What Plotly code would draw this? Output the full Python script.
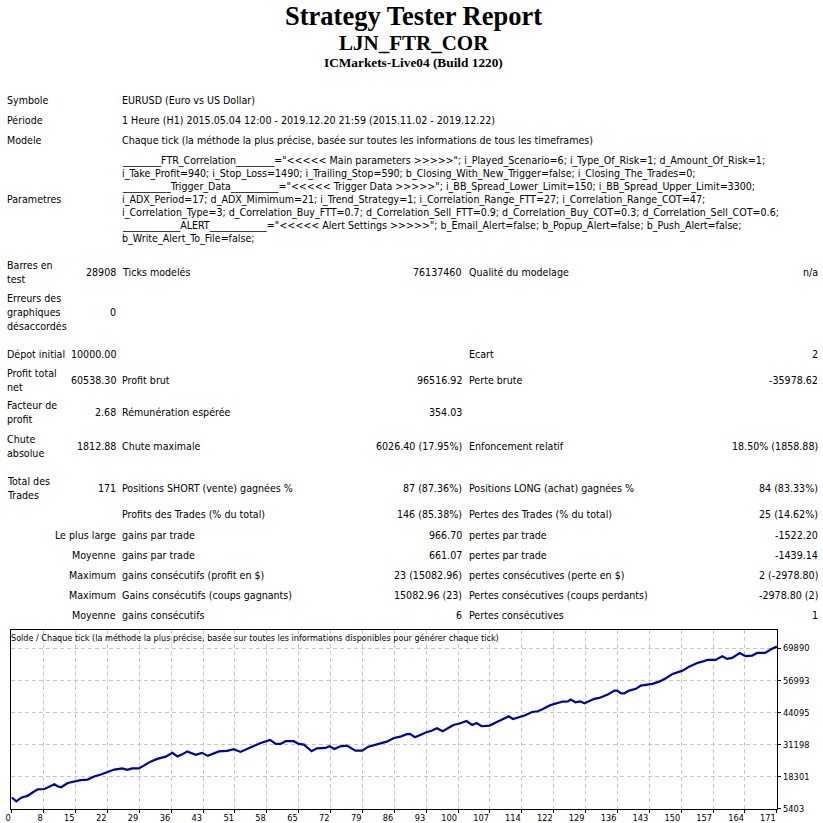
import plotly.graph_objects as go

W = H = 823
# the photographed page comes out a few px taller than 823 and is squeezed back
# to 823, so the figure is drawn that much taller (paper fractions stay on 823)
FIG_H = 830

title_lines = ["Strategy Tester Report", "LJN_FTR_COR", "ICMarkets-Live04 (Build 1220)"]

info_labels = ["Symbole", "Période", "Modele"]
info_values = [
    "EURUSD (Euro vs US Dollar)",
    "1 Heure (H1) 2015.05.04 12:00 - 2019.12.20 21:59 (2015.11.02 - 2019.12.22)",
    "Chaque tick (la méthode la plus précise, basée sur toutes les informations de tous les timeframes)",
]

param_label = "Parametres"
param_lines = [
    '________FTR_Correlation________="<<<<< Main parameters >>>>>"; i_Played_Scenario=6; i_Type_Of_Risk=1; d_Amount_Of_Risk=1;',
    "i_Take_Profit=940; i_Stop_Loss=1490; i_Trailing_Stop=590; b_Closing_With_New_Trigger=false; i_Closing_The_Trades=0;",
    '__________Trigger_Data__________="<<<<< Trigger Data >>>>>"; i_BB_Spread_Lower_Limit=150; i_BB_Spread_Upper_Limit=3300;',
    "i_ADX_Period=17; d_ADX_Mimimum=21; i_Trend_Strategy=1; i_Correlation_Range_FTT=27; i_Correlation_Range_COT=47;",
    "i_Correlation_Type=3; d_Correlation_Buy_FTT=0.7; d_Correlation_Sell_FTT=0.9; d_Correlation_Buy_COT=0.3; d_Correlation_Sell_COT=0.6;",
    '____________ALERT____________="<<<<< Alert Settings >>>>>"; b_Email_Alert=false; b_Popup_Alert=false; b_Push_Alert=false;',
    "b_Write_Alert_To_File=false;",
]

# stats table, one entry per row
col_label = ["Barres en<br>test", "Erreurs des<br>graphiques<br>désaccordés", "Dépot initial",
             "Profit total<br>net", "Facteur de<br>profit", "Chute<br>absolue", "Total des<br>Trades",
             "", "", "", "", "", ""]
col_value = ["28908", "0", "10000.00", "60538.30", "2.68", "1812.88", "171", "",
             "Le plus large", "Moyenne", "Maximum", "Maximum", "Moyenne"]
col_name2 = ["Ticks modelés", "", "", "Profit brut", "Rémunération espérée", "Chute maximale",
             "Positions SHORT (vente) gagnées %", "Profits des Trades (% du total)", "gains par trade",
             "gains par trade", "gains consécutifs (profit en $)", "Gains consécutifs (coups gagnants)",
             "gains consécutifs"]
col_value2 = ["76137460", "", "", "96516.92", "354.03", "6026.40 (17.95%)", "87 (87.36%)", "146 (85.38%)",
              "966.70", "661.07", "23 (15082.96)", "15082.96 (23)", "6"]
col_name3 = ["Qualité du modelage", "", "Ecart", "Perte brute", "", "Enfoncement relatif",
             "Positions LONG (achat) gagnées %", "Pertes des Trades (% du total)", "pertes par trade",
             "pertes par trade", "pertes consécutives (perte en $)", "Pertes consécutives (coups perdants)",
             "Pertes consécutives"]
col_value3 = ["n/a", "", "2", "-35978.62", "", "18.50% (1858.88)", "84 (83.33%)", "25 (14.62%)",
              "-1522.20", "-1439.14", "2 (-2978.80)", "-2978.80 (2)", "1"]

chart_title = ("Solde / Chaque tick (la méthode la plus précise, basée sur toutes les informations "
               "disponibles pour générer chaque tick)")

# balance curve
trade_no = [
    0, 1, 2.1, 3.6, 4.7, 5.8, 7.3, 8.4, 9.5, 10.2,
    11, 12.5, 13.6, 15.4, 16.9, 18.4, 19.9, 21.4, 22.9, 24.7,
    25.8, 26.9, 28.4, 29.5, 31, 32.5, 34.4, 35.9, 37, 38.1,
    39.2, 41.1, 42.5, 43.8, 45.1, 46.3, 48.1, 49.6, 51.1, 52.6,
    54, 55.5, 57.7, 59, 60.1, 61.2, 63, 64.1, 65.3, 67,
    68.2, 70.1, 71, 72.1, 73.4, 74.9, 76.8, 78.3, 79.7, 81.6,
    83.8, 85.3, 86.8, 88.3, 89, 90.1, 91.2, 92.7, 93.8, 95,
    96.3, 97.6, 98.7, 100.1, 101.6, 102.9, 103.9, 105, 106.8, 108.3,
    109.8, 111.1, 112, 113.1, 114.6, 116.3, 117.6, 118.7, 120.2, 121.3,
    123.2, 124.3, 124.9, 126, 127, 128, 129.1, 130.2, 131.3, 133.2,
    134.7, 135.3, 136.2, 136.9, 138, 139.5, 140.6, 141.7, 143.2, 144.7,
    146.2, 147.7, 148.8, 149.9, 151.4, 152.5, 153.2, 154.3, 155.5, 157.3,
    158.8, 159.9, 161, 162.7, 164, 165.5, 166.6, 168.4, 169.8, 171,
]
balance = [
    10000, 8480, 9950, 10750, 12100, 13300, 13400, 14400, 15300, 14500,
    14100, 15800, 16200, 17000, 17200, 18400, 19200, 20300, 21200, 21700,
    21100, 21700, 21700, 22800, 24400, 25500, 26400, 27900, 26500, 27300,
    28500, 27100, 27900, 26700, 27600, 28500, 28700, 29400, 28300, 29500,
    30800, 31800, 33100, 31500, 31500, 32600, 32600, 31500, 31200, 28550,
    29750, 29900, 30550, 29500, 30550, 30800, 28800, 28800, 30400, 31200,
    32400, 33800, 34400, 35400, 35500, 34200, 35100, 36200, 36800, 37800,
    36600, 37800, 39100, 39700, 40700, 39100, 39900, 38600, 38850, 40200,
    41500, 42600, 41500, 42100, 42900, 44300, 44600, 45500, 46900, 47550,
    48500, 48600, 49300, 48200, 48600, 47800, 48600, 49600, 49950, 51300,
    52900, 52900, 51800, 51800, 52900, 53600, 54900, 55300, 55600, 56500,
    57850, 59600, 60300, 60900, 62500, 63600, 64000, 64500, 65200, 65200,
    66700, 65600, 66000, 68000, 66700, 66950, 68000, 68000, 69600, 70538.30,
]

x_tick_labels = ["0", "8", "15", "22", "29", "36", "43", "51", "58", "65", "72", "79", "86",
                 "93", "100", "107", "114", "122", "129", "136", "143", "150", "157", "164", "171"]
y_tick_values = [5403, 18301, 31198, 44095, 56993, 69890]

TXT = "Liberation Sans Narrow, DejaVu Sans Condensed, Liberation Sans"
SERIF = "Liberation Serif, Times New Roman, serif"
BODY = 10.6


def px(x):
    return x / W


def py(y):
    return 1 - y / H


fig = go.Figure()
fig.add_trace(go.Scatter(x=trade_no, y=balance, mode="lines",
                         line=dict(color="#0000A8", width=2.2), hoverinfo="skip"))


def text(s, x, y, anchor="left", size=BODY, family=TXT, bold=False):
    if bold:
        s = "<b>" + s + "</b>"
    fig.add_annotation(text=s, x=px(x), y=py(y), xref="paper", yref="paper",
                       xanchor=anchor, yanchor="middle", showarrow=False, align=anchor,
                       borderpad=0, font=dict(family=family, size=size, color="black"))


# header
text(title_lines[0], 411, 16, "center", 26.5, SERIF, True)
text(title_lines[1], 411, 43, "center", 21, SERIF, True)
text(title_lines[2], 411, 62, "center", 13.3, SERIF, True)

for i, (lab, val) in enumerate(zip(info_labels, info_values)):
    text(lab, 1, 100 + 20 * i)
    text(val, 117, 100 + 20 * i)

for i, line in enumerate(param_lines):
    text(line, 117, 160 + 13 * i)
text(param_label, 1, 199)

row_y = [271, 311, 353, 379, 411, 445, 487, 513, 534, 554, 574, 594, 614]
for i, y in enumerate(row_y):
    text(col_label[i], 1, y)
    text(col_value[i], 113, y, "right")
    text(col_name2[i], 117, y)
    text(col_value2[i], 461, y, "right")
    text(col_name3[i], 466, y)
    text(col_value3[i], 819, y, "right")

text(chart_title, 5, 636, size=9)

axis_font = dict(family=TXT, size=9.2, color="black")
grid = dict(showgrid=True, gridcolor="#c8c8c8", gridwidth=1, griddash="4px,3px",
            showline=True, linecolor="black", linewidth=1, mirror=True,
            ticks="outside", ticklen=3, tickcolor="black", zeroline=False, tickfont=axis_font)
fig.update_xaxes(
    domain=[px(6), px(777)], range=[-0.2, 171.1],
    tickvals=[k * 171 / 24 for k in range(len(x_tick_labels))], ticktext=x_tick_labels,
    ticklabelposition="outside left", ticklabeloverflow="allow", **grid,
)
fig.update_yaxes(
    domain=[py(807), py(628)], range=[5403, 77400], side="right",
    tickvals=y_tick_values, ticktext=[str(v) for v in y_tick_values], **grid,
)
fig.update_layout(
    width=W, height=FIG_H, margin=dict(l=0, r=0, t=0, b=0),
    paper_bgcolor="white", plot_bgcolor="white", showlegend=False,
)

# drop the default page margin
page_fix = ("document.body.style.margin='0';"
            "document.documentElement.style.overflow='hidden';")
fig.write_html("out.html", config={"displayModeBar": False}, post_script=page_fix)
